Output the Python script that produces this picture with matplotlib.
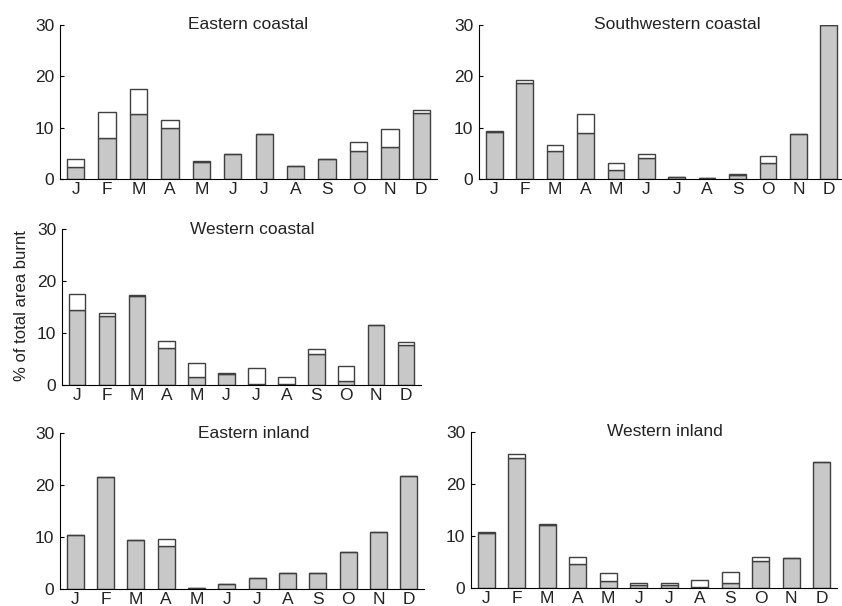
import matplotlib.pyplot as plt
import numpy as np

plt.rcParams['font.family'] = ['Liberation Sans', 'DejaVu Sans']

months = ['J', 'F', 'M', 'A', 'M', 'J', 'J', 'A', 'S', 'O', 'N', 'D']

# grey part (lower) and total height of each bar, % of total area burnt
east_coastal_grey = [2.3, 7.9, 12.7, 10.0, 3.3, 4.9, 8.8, 2.5, 3.8, 5.5, 6.3, 12.8]
east_coastal_total = [3.8, 13.0, 17.5, 11.4, 3.5, 4.9, 8.8, 2.5, 3.8, 7.2, 9.8, 13.5]

sw_coastal_grey = [9.1, 18.7, 5.5, 8.9, 1.8, 4.1, 0.3, 0.2, 0.8, 3.1, 8.8, 30.0]
sw_coastal_total = [9.3, 19.2, 6.7, 12.6, 3.2, 4.9, 0.3, 0.2, 1.0, 4.4, 8.8, 30.0]

west_coastal_grey = [14.5, 13.3, 17.1, 7.1, 1.5, 2.1, 0.2, 0.1, 5.9, 0.8, 11.6, 7.6]
west_coastal_total = [17.5, 13.8, 17.3, 8.5, 4.3, 2.4, 3.3, 1.6, 7.0, 3.6, 11.6, 8.2]

east_inland_grey = [10.4, 21.6, 9.4, 8.3, 0.2, 0.9, 2.2, 3.0, 3.0, 7.1, 10.9, 21.8]
east_inland_total = [10.4, 21.6, 9.4, 9.6, 0.2, 0.9, 2.2, 3.0, 3.0, 7.1, 10.9, 21.8]

west_inland_grey = [10.6, 25.0, 12.2, 4.7, 1.35, 0.65, 0.65, 0.25, 1.0, 5.2, 5.8, 24.3]
west_inland_total = [10.8, 25.8, 12.4, 5.9, 2.9, 1.0, 1.0, 1.6, 3.0, 6.0, 5.8, 24.3]

W, H = 842, 606
fig = plt.figure(figsize=(W / 100, H / 100), dpi=100)


def px_axes(x0, y0, x1, y1):
    # pixel box -> figure fraction
    return fig.add_axes([x0 / W, 1 - y1 / H, (x1 - x0) / W, (y1 - y0) / H])


panels = [
    ('Eastern coastal', east_coastal_grey, east_coastal_total, (60, 25, 437, 179), 0.50),
    ('Southwestern coastal', sw_coastal_grey, sw_coastal_total, (479, 25, 844, 179), 0.542),
    ('Western coastal', west_coastal_grey, west_coastal_total, (62, 229, 421, 385), 0.531),
    ('Eastern inland', east_inland_grey, east_inland_total, (60, 433, 424, 589), 0.532),
    ('Western inland', west_inland_grey, west_inland_total, (471, 432, 837, 588), 0.529),
]

fs = 12.5
x = np.arange(len(months))
for title, grey, total, box, tx in panels:
    ax = px_axes(*box)
    grey = np.array(grey)
    white = np.array(total) - grey
    ax.bar(x, grey, width=0.55, color='#c8c8c8', edgecolor='#404040', linewidth=1.0)
    ax.bar(x, white, bottom=grey, width=0.55, color='white', edgecolor='#404040', linewidth=1.0)
    ax.set_xlim(-0.5, 11.5)
    ax.set_ylim(0, 30)
    ax.set_yticks([0, 10, 20, 30])
    ax.set_xticks(x)
    ax.set_xticklabels(months)
    ax.tick_params(axis='x', length=0, pad=2, labelsize=fs, labelcolor='#222222')
    ax.tick_params(axis='y', direction='in', length=3, width=0.8, pad=4,
                   labelsize=fs, labelcolor='#222222')
    ax.spines['top'].set_visible(False)
    ax.spines['right'].set_visible(False)
    ax.spines['left'].set_linewidth(0.8)
    ax.spines['bottom'].set_linewidth(0.8)
    ax.patch.set_alpha(0)
    ax.text(tx, 1.0, title, transform=ax.transAxes, ha='center', va='center',
            fontsize=fs, color='#222222')

fig.text(22 / W, 1 - 306 / H, '% of total area burnt', rotation=90,
         ha='center', va='center', fontsize=fs - 0.5, color='#222222')

fig.savefig('out.png', dpi=100)
